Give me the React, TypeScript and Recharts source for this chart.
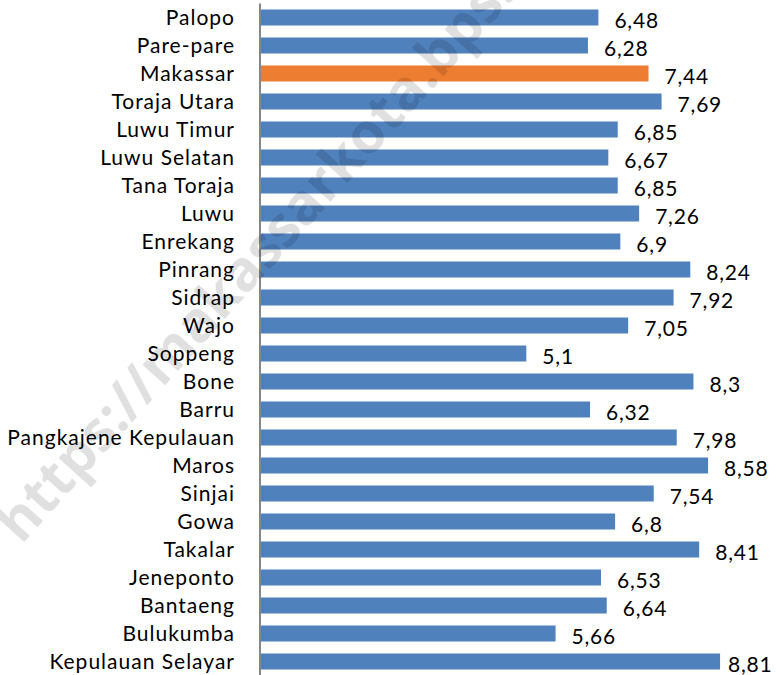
import React from "react";
import { BarChart, Bar, XAxis, YAxis, Cell, LabelList } from "recharts";

const categories = [
  "Palopo", "Pare-pare", "Makassar", "Toraja Utara", "Luwu Timur", "Luwu Selatan",
  "Tana Toraja", "Luwu", "Enrekang", "Pinrang", "Sidrap", "Wajo", "Soppeng", "Bone",
  "Barru", "Pangkajene Kepulauan", "Maros", "Sinjai", "Gowa", "Takalar", "Jeneponto",
  "Bantaeng", "Bulukumba", "Kepulauan Selayar",
];
const values = [
  6.48, 6.28, 7.44, 7.69, 6.85, 6.67, 6.85, 7.26, 6.9, 8.24, 7.92, 7.05, 5.1, 8.3,
  6.32, 7.98, 8.58, 7.54, 6.8, 8.41, 6.53, 6.64, 5.66, 8.81,
];
const highlight = "Makassar";
const watermark = "https://makassarkota.bps.go.id";

const BLUE = "#4F81BD";
const ORANGE = "#ED7D31";
const FONT = "Lato, 'Open Sans', sans-serif";

const data = categories.map((name, i) => ({ name, value: values[i] }));

const ValueLabel = (props: any) => {
  const { x, y, width, height, value } = props;
  const end = Number(x) + Number(width);
  const lx = Math.min(end + 16, 728);
  return (
    <text
      x={lx}
      y={Number(y) + Number(height) / 2 + 1.5}
      fill="#000"
      fontSize={21}
      letterSpacing={0.8}
      fontFamily={FONT}
      dominantBaseline="central"
    >
      {String(value).replace(".", ",")}
    </text>
  );
};

export default function App() {
  return (
    <div style={{ position: "absolute", left: 0, top: 0, width: 777, height: 675, overflow: "hidden", background: "#fff" }}>
      <BarChart
        width={777}
        height={680}
        data={data}
        layout="vertical"
        margin={{ top: 3.5, right: 0, bottom: 4.5, left: 0 }}
      >
        <XAxis type="number" domain={[0, 9.9]} hide />
        <YAxis
          type="category"
          dataKey="name"
          width={260}
          axisLine={{ stroke: "#868686", strokeWidth: 2 }}
          tickLine={false}
          tickSize={6}
          tickMargin={19}
          interval={0}
          tick={{ fill: "#000", fontSize: 21, fontFamily: FONT, letterSpacing: 1 }}
        />
        <Bar dataKey="value" barSize={16} isAnimationActive={false}>
          {data.map((d) => (
            <Cell key={d.name} fill={d.name === highlight ? ORANGE : BLUE} />
          ))}
          <LabelList dataKey="value" content={<ValueLabel />} />
        </Bar>
      </BarChart>
      <svg
        width={777}
        height={675}
        style={{ position: "absolute", left: 0, top: 0, pointerEvents: "none" }}
      >
        <text
          x={298}
          y={205}
          transform="rotate(-48 298 205)"
          textAnchor="middle"
          dominantBaseline="central"
          fontSize={56}
          fontWeight="bold"
          fontFamily="'Open Sans', sans-serif"
          fill="#000"
          fillOpacity={0.12}
        >
          {watermark}
        </text>
      </svg>
    </div>
  );
}
